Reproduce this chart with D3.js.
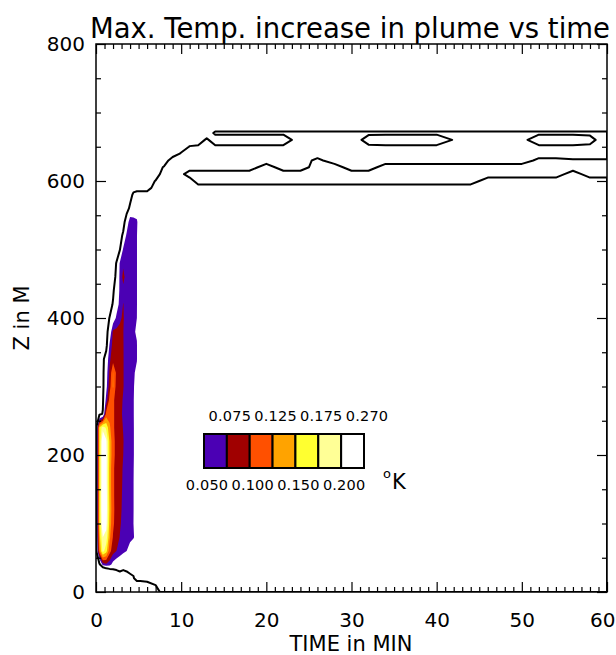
<!DOCTYPE html>
<html>
<head>
<meta charset="utf-8">
<script src="https://cdn.jsdelivr.net/npm/d3@7"></script>
<style>
  body { margin: 0; background: #fff; }
  text { font-family: "DejaVu Sans", sans-serif; fill: #000; }
</style>
</head>
<body>
<svg id="chart" width="616" height="655"></svg>
<script>
// sample columns (minutes) and rows (metres) of the field
const timeGrid = [0, 0.4, 0.8, 1.2, 1.6, 2.0, 2.4, 2.8, 3.2, 3.6, 4.0, 4.4, 4.8, 5.2,
  6, 7, 8, 9, 10, 11, 12, 13, 14, 16, 18, 20, 22, 24, 26, 28, 30, 32, 34, 36, 38, 40,
  42, 44, 46, 48, 50, 52, 54, 56, 58, 60];
const heightGrid = [0, 20, 40, 60, 80, 100, 120, 140, 160, 180, 200, 220, 240, 260, 280,
  300, 320, 340, 360, 380, 400, 420, 440, 460, 480, 500, 520, 540, 560,
  580, 590, 600, 610, 620, 630, 640, 650, 660, 670, 680, 690, 700];

// max temperature increase, hundredths of a degree K, one row per height
const tempRise = [
  /*   0 */ [-3,-3,-3,-3,-3,-3,-3,-3,-3,-3,-3,-3,-3,-3, -2,0,2,2,2,2,2,2,2,2,2,2,2,2,2,2,2,2,2,2,2,2,2,2,2,2,2,2,2,2,2,2],
  /*  20 */ [-10,-20,-20,-15,-10,-5,-2,-0.5,-0.5,0,0.5,0.8,2,2, 2,2,2,2,2,2,2,2,2,2,2,2,2,2,2,2,2,2,2,2,2,2,2,2,2,2,2,2,2,2,2,2],
  /*  40 */ [0,0,6,7,6,4,3,2.5,2,2,2,2,2,2, 2,2,2,2,2,2,2,2,2,2,2,2,2,2,2,2,2,2,2,2,2,2,2,2,2,2,2,2,2,2,2,2],
  /*  60 */ [0,12,18.5,16,11,8.5,7.5,6.5,5.6,5,4,3,2.5,2, 2,2,2,2,2,2,2,2,2,2,2,2,2,2,2,2,2,2,2,2,2,2,2,2,2,2,2,2,2,2,2,2],
  /*  80 */ [0,14,20,19,13,9.8,8.6,7.4,6.6,6,5.6,5.2,4,2, 2,2,2,2,2,2,2,2,2,2,2,2,2,2,2,2,2,2,2,2,2,2,2,2,2,2,2,2,2,2,2,2],
  /* 100 */ [0,15,23,21,14,10.5,8.8,7.8,6.8,6,5.5,5,3.5,2, 2,2,2,2,2,2,2,2,2,2,2,2,2,2,2,2,2,2,2,2,2,2,2,2,2,2,2,2,2,2,2,2],
  /* 120 */ [0,15,24,21.5,14.5,10.6,9,8,7,6.1,5.5,5.05,3.5,2, 2,2,2,2,2,2,2,2,2,2,2,2,2,2,2,2,2,2,2,2,2,2,2,2,2,2,2,2,2,2,2,2],
  /* 140 */ [0,15,24,21.5,14.2,10.5,9,8.1,7.1,6.1,5.5,5.05,3.5,2, 2,2,2,2,2,2,2,2,2,2,2,2,2,2,2,2,2,2,2,2,2,2,2,2,2,2,2,2,2,2,2,2],
  /* 160 */ [0,15,23.5,21,14,10.5,9,8.2,7.2,6.2,5.6,5.05,3.5,2, 2,2,2,2,2,2,2,2,2,2,2,2,2,2,2,2,2,2,2,2,2,2,2,2,2,2,2,2,2,2,2,2],
  /* 180 */ [0,15,23.5,21,14,10.5,9,8.2,7.3,6.3,5.7,5.1,3.5,2, 2,2,2,2,2,2,2,2,2,2,2,2,2,2,2,2,2,2,2,2,2,2,2,2,2,2,2,2,2,2,2,2],
  /* 200 */ [0,15,23.5,21,14.5,10.8,9.2,8.4,7.5,6.4,5.8,5.2,3.5,2, 2,2,2,2,2,2,2,2,2,2,2,2,2,2,2,2,2,2,2,2,2,2,2,2,2,2,2,2,2,2,2,2],
  /* 220 */ [0,15,23,20.5,14.5,10.8,9.2,8.4,7.6,6.4,5.8,5.2,3.5,2, 2,2,2,2,2,2,2,2,2,2,2,2,2,2,2,2,2,2,2,2,2,2,2,2,2,2,2,2,2,2,2,2],
  /* 240 */ [0,15,19,17,13,10.5,9,8.2,7.4,6.3,5.7,5.2,3.5,2, 2,2,2,2,2,2,2,2,2,2,2,2,2,2,2,2,2,2,2,2,2,2,2,2,2,2,2,2,2,2,2,2],
  /* 260 */ [0,0,1.2,11,11.5,10.5,9,8,7.2,6.2,5.5,5.1,4,2, 2,2,2,2,2,2,2,2,2,2,2,2,2,2,2,2,2,2,2,2,2,2,2,2,2,2,2,2,2,2,2,2],
  /* 280 */ [0,0,0.5,6,11,10.5,9,8.2,7.3,6.3,5.5,5.1,4,2, 2,2,2,2,2,2,2,2,2,2,2,2,2,2,2,2,2,2,2,2,2,2,2,2,2,2,2,2,2,2,2,2],
  /* 300 */ [0,0,0.3,4,9,12.8,9,8.3,7.6,6.5,5.6,5.2,4,2, 2,2,2,2,2,2,2,2,2,2,2,2,2,2,2,2,2,2,2,2,2,2,2,2,2,2,2,2,2,2,2,2],
  /* 320 */ [0,0,0.3,3.5,8,12.6,9.5,8.3,7.6,6.5,5.7,5.3,4.5,2, 2,2,2,2,2,2,2,2,2,2,2,2,2,2,2,2,2,2,2,2,2,2,2,2,2,2,2,2,2,2,2,2],
  /* 340 */ [0,0,0.3,2.5,7,9,8.8,8.2,7.6,6.5,5.8,5.4,5.1,2, 2,2,2,2,2,2,2,2,2,2,2,2,2,2,2,2,2,2,2,2,2,2,2,2,2,2,2,2,2,2,2,2],
  /* 360 */ [0,0,0,0,5.5,8.5,8.5,8,7.6,6.3,5.6,5.3,5.1,2, 2,2,2,2,2,2,2,2,2,2,2,2,2,2,2,2,2,2,2,2,2,2,2,2,2,2,2,2,2,2,2,2],
  /* 380 */ [0,0,0,0,2.5,8,8.2,7.9,7.55,6.2,5.5,5.2,4.8,2, 2,2,2,2,2,2,2,2,2,2,2,2,2,2,2,2,2,2,2,2,2,2,2,2,2,2,2,2,2,2,2,2],
  /* 400 */ [0,0,0,0,1.1,3,5.5,7.2,7.8,6,5.5,5.3,5,2, 2,2,2,2,2,2,2,2,2,2,2,2,2,2,2,2,2,2,2,2,2,2,2,2,2,2,2,2,2,2,2,2],
  /* 420 */ [0,0,0,0,0,1.2,3.5,5.8,7.6,6,5.5,5.3,5.1,2, 2,2,2,2,2,2,2,2,2,2,2,2,2,2,2,2,2,2,2,2,2,2,2,2,2,2,2,2,2,2,2,2],
  /* 440 */ [0,0,0,0,0,0.6,2.5,5.5,6.8,6.2,5.6,5.3,5.1,2, 2,2,2,2,2,2,2,2,2,2,2,2,2,2,2,2,2,2,2,2,2,2,2,2,2,2,2,2,2,2,2,2],
  /* 460 */ [0,0,0,0,0,0,1.5,5.6,8.3,6.2,5.6,5.3,5.1,2, 2,2,2,2,2,2,2,2,2,2,2,2,2,2,2,2,2,2,2,2,2,2,2,2,2,2,2,2,2,2,2,2],
  /* 480 */ [0,0,0,0,0,0,1.1,5.3,7,6,5.5,5.3,5.1,2, 2,2,2,2,2,2,2,2,2,2,2,2,2,2,2,2,2,2,2,2,2,2,2,2,2,2,2,2,2,2,2,2],
  /* 500 */ [0,0,0,0,0,0,0,0.8,5.5,6,5.6,5.3,5.1,2, 2,2,2,2,2,2,2,2,2,2,2,2,2,2,2,2,2,2,2,2,2,2,2,2,2,2,2,2,2,2,2,2],
  /* 520 */ [0,0,0,0,0,0,0,0,1.5,5.8,5.6,5.3,5.1,2, 2,2,2,2,2,2,2,2,2,2,2,2,2,2,2,2,2,2,2,2,2,2,2,2,2,2,2,2,2,2,2,2],
  /* 540 */ [0,0,0,0,0,0,0,0,0,2.5,7,6,5.5,2, 2,2,2,2,2,2,2,2,2,2,2,2,2,2,2,2,2,2,2,2,2,2,2,2,2,2,2,2,2,2,2,2],
  /* 560 */ [0,0,0,0,0,0,0,0,0,0,1.5,3,3,2, 2,2,2,2,2,2,2,2,2,2,2,2,2,2,2,2,2,2,2,2,2,2,2,2,2,2,2,2,2,2,2,2],
  /* 580 */ [0,0,0,0,0,0,0,0,0,0,0,1.5,2,2, 2,2,2,2,2,2,2,2,2,2,2,2,2,2,2,2,2,2,2,2,2,2,2,2,2,2,2,2,2,2,2,2],
  /* 590 */ [0,0,0,0,0,0,0,0,0,0,0,0,0,0, 0,2,2,2,2,2,2,2,2,2,2,2,2,2,2,2,2,2,2,2,2,2,2,2,2,2,2,2,2,2,2,2],
  /* 600 */ [0,0,0,0,0,0,0,0,0,0,0,0,0,0, 0,1.1,2,2,2,2,0,0,0,0,0,0,0,0,0,0,0,0,0,0,0,0,0,0,2,2,2,2,2,2,2,2],
  /* 610 */ [0,0,0,0,0,0,0,0,0,0,0,0,0,0, 0,0,2,2,1.5,0,0,0,0,0,0,0,0,0,0,0,0,0,0,0,0,0,0,0,0,0,0,0,0,2,0,0],
  /* 620 */ [0,0,0,0,0,0,0,0,0,0,0,0,0,0, 0,0,1.2,2,2,2,2,2,2,2,2,0,2,2,0,0,2,2,0,0,0,0,0,0,0,0,0,0,0,0,0,0],
  /* 630 */ [0,0,0,0,0,0,0,0,0,0,0,0,0,0, 0,0,0,2,2,2,2,2,2,2,2,2,2,2,0.5,2,2,2,2,2,2,2,2,2,2,2,2,0.5,0.5,0.8,0.8,0.8],
  /* 640 */ [0,0,0,0,0,0,0,0,0,0,0,0,0,0, 0,0,0,0,1.2,2,2,2,2,2,2,2,2,2,2,2,2,2,2,2,2,2,2,2,2,2,2,2,2,2,2,2],
  /* 650 */ [0,0,0,0,0,0,0,0,0,0,0,0,0,0, 0,0,0,0,0,1.1,1.3,1.3,1.3,1.3,1.3,1.3,1.3,1.3,1.3,1.3,1.3,1.3,1.3,1.3,1.3,1.3,1.3,1.3,1.3,1.3,1.3,1.3,1.3,1.3,1.3,1.3],
  /* 660 */ [0,0,0,0,0,0,0,0,0,0,0,0,0,0, 0,0,0,0,0,0,0,1.3,0,0,0,0,0,2,2,2,2,0.3,0,0,0,0,1.1,2,2,2,1.5,0,0,0,0.5,2],
  /* 670 */ [0,0,0,0,0,0,0,0,0,0,0,0,0,0, 0,0,0,0,0,0,0,0,1.3,1.3,1.3,1.3,1.3,1.3,1.3,1.3,1.3,1.3,1.3,1.3,1.3,1.3,1.3,1.3,1.3,1.3,1.3,1.3,1.3,1.3,1.3,1.3],
  /* 680 */ [0,0,0,0,0,0,0,0,0,0,0,0,0,0, 0,0,0,0,0,0,0,0,0,0,0,0,0,0,0,0,0,0,0,0,0,0,0,0,0,0,0,0,0,0,0,0],
  /* 690 */ [0,0,0,0,0,0,0,0,0,0,0,0,0,0, 0,0,0,0,0,0,0,0,0,0,0,0,0,0,0,0,0,0,0,0,0,0,0,0,0,0,0,0,0,0,0,0],
  /* 700 */ [0,0,0,0,0,0,0,0,0,0,0,0,0,0, 0,0,0,0,0,0,0,0,0,0,0,0,0,0,0,0,0,0,0,0,0,0,0,0,0,0,0,0,0,0,0,0]
];
const gridUnit = 0.01;

// filled contour levels (K) and their colours, plus the single line level
const fillLevels = [0.05, 0.075, 0.1, 0.125, 0.15, 0.175, 0.2, 0.27];
const fillColors = ["#4b00b4", "#a00000", "#ff5000", "#ffa300", "#ffff30", "#ffff96", "#ffffff"];
const outlineLevel = 0.01;

const timeTicks = [0, 10, 20, 30, 40, 50, 60];
const heightTicks = [0, 200, 400, 600, 800];

const svg = d3.select("#chart");
const x = d3.scaleLinear().domain([0, 60]).range([96, 607]);
const y = d3.scaleLinear().domain([0, 800]).range([592, 44]);

// grid index -> data units (grid is not evenly spaced)
const nx = timeGrid.length, ny = heightGrid.length;
const col = d3.scaleLinear().domain(d3.range(nx)).range(timeGrid).clamp(true);
const row = d3.scaleLinear().domain(d3.range(ny)).range(heightGrid).clamp(true);
const values = tempRise.flat();

const path = d3.geoPath(d3.geoTransform({
  point(px, py) { this.stream.point(x(col(px - 0.5)), y(row(py - 0.5))); }
}));
const contours = d3.contours().size([nx, ny]);

svg.append("clipPath").attr("id", "plot-clip")
  .append("rect")
  .attr("x", x(0)).attr("y", y(800))
  .attr("width", x(60) - x(0)).attr("height", y(0) - y(800));

const plot = svg.append("g").attr("clip-path", "url(#plot-clip)");

plot.append("g").selectAll("path")
  .data(fillColors.map((c, i) => contours.contour(values, fillLevels[i] / gridUnit)))
  .join("path")
  .attr("d", path)
  .attr("fill", (d, i) => fillColors[i])
  .attr("fill-rule", "evenodd");

plot.append("path")
  .datum(contours.contour(values, outlineLevel / gridUnit))
  .attr("d", path)
  .attr("fill", "none")
  .attr("stroke", "#000")
  .attr("stroke-width", 2)
  .attr("stroke-linejoin", "round");

// axes: ticks point inwards on all four sides
const minorTime = d3.range(0, 61).filter(v => v % 10 !== 0);
const minorHeight = d3.range(0, 801, 50).filter(v => v % 200 !== 0);

function tickAxis(axis, values, size, tx, ty, labels, pad) {
  const g = svg.append("g")
    .attr("transform", `translate(${tx},${ty})`)
    .call(axis.tickValues(values).tickSize(-size).tickSizeOuter(0)
      .tickPadding(pad || 3)
      .tickFormat(labels ? d3.format("d") : ""));
  g.select(".domain").remove();
  g.selectAll("line").attr("stroke", "#000").attr("stroke-width", 1.2);
  g.selectAll("text").style("font-size", "20px").attr("fill", "#000");
  return g;
}

const xLabels = tickAxis(d3.axisBottom(x), timeTicks, 10, 0, y(0), true, 21);
// keep the last label inside the picture
xLabels.selectAll(".tick text").filter(d => d === 60)
  .attr("text-anchor", "end").attr("x", 8);
tickAxis(d3.axisBottom(x), minorTime, 5, 0, y(0), false);
tickAxis(d3.axisTop(x), timeTicks, 10, 0, y(800), false);
tickAxis(d3.axisTop(x), minorTime, 5, 0, y(800), false);
tickAxis(d3.axisLeft(y), heightTicks, 10, x(0), 0, true, 11);
tickAxis(d3.axisLeft(y), minorHeight, 5, x(0), 0, false);
tickAxis(d3.axisRight(y), heightTicks, 10, x(60), 0, false);
tickAxis(d3.axisRight(y), minorHeight, 5, x(60), 0, false);

svg.append("rect")
  .attr("x", x(0)).attr("y", y(800))
  .attr("width", x(60) - x(0)).attr("height", y(0) - y(800))
  .attr("fill", "none").attr("stroke", "#000").attr("stroke-width", 1.5);

// titles
svg.append("text").attr("x", 350).attr("y", 38)
  .attr("text-anchor", "middle").style("font-size", "27.5px")
  .text("Max. Temp. increase in plume vs time");
svg.append("text").attr("x", 351).attr("y", 651)
  .attr("text-anchor", "middle").style("font-size", "21px")
  .text("TIME in MIN");
svg.append("text")
  .attr("transform", "translate(29,318) rotate(-90)")
  .attr("text-anchor", "middle").style("font-size", "21px")
  .text("Z in M");

// colour bar
const bar = d3.scaleLinear().domain([0, fillColors.length]).range([204, 364]);
const legend = svg.append("g");
legend.selectAll("rect")
  .data(fillColors)
  .join("rect")
  .attr("x", (d, i) => bar(i))
  .attr("y", 434)
  .attr("width", bar(1) - bar(0))
  .attr("height", 34)
  .attr("fill", d => d)
  .attr("stroke", "#000")
  .attr("stroke-width", 2);
legend.selectAll("text")
  .data(fillLevels)
  .join("text")
  .attr("x", (d, i) => bar(i) + 3)
  .attr("y", (d, i) => i % 2 ? 421 : 490)
  .attr("text-anchor", "middle")
  .style("font-size", "14.5px")
  .style("letter-spacing", "0.2px")
  .text(d => d3.format(".3f")(d));
legend.append("text").attr("x", 383).attr("y", 478)
  .style("font-size", "13px").text("o");
legend.append("text").attr("x", 392).attr("y", 489)
  .style("font-size", "21px").text("K");
</script>
</body>
</html>
